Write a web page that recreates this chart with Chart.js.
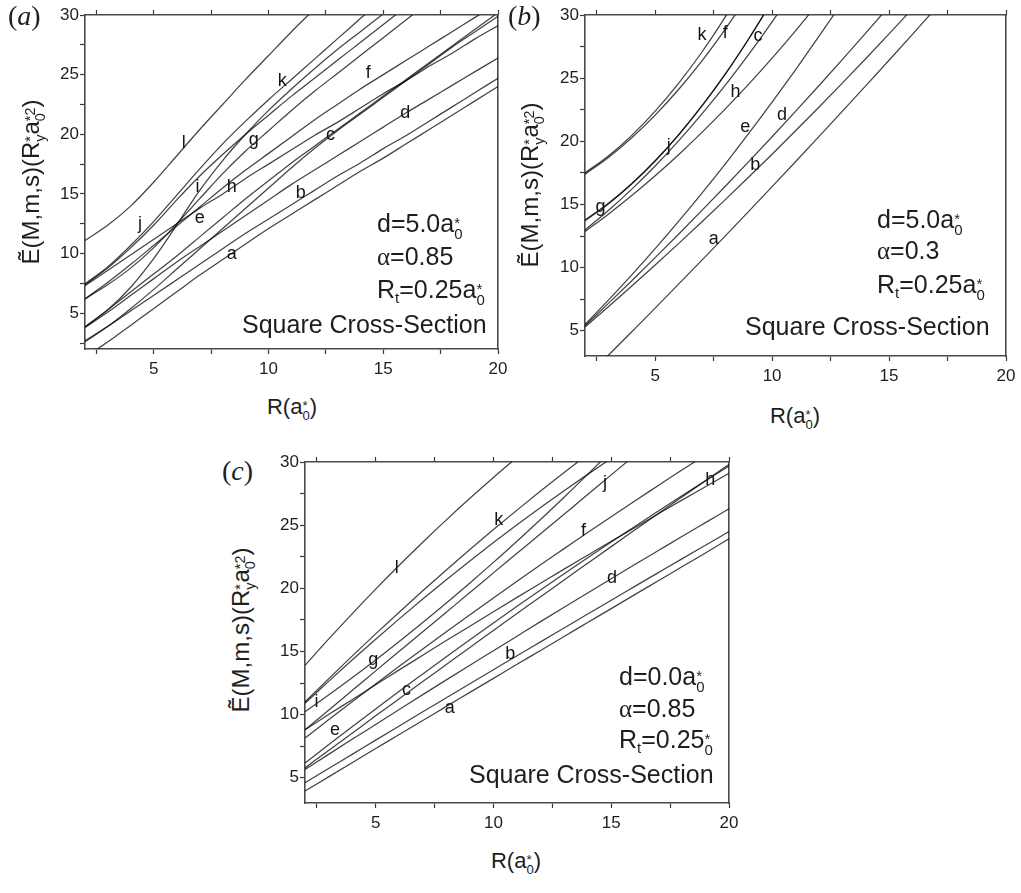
<!DOCTYPE html>
<html>
<head>
<meta charset="utf-8">
<script src="https://cdn.jsdelivr.net/npm/chart.js@4.4.0/dist/chart.umd.min.js"></script>
<style>
  html, body { margin: 0; padding: 0; background: #fff; }
  body { width: 1021px; height: 893px; position: relative; overflow: hidden;
         font-family: "Liberation Sans", Arial, sans-serif; color: #1e1e1e; }
  canvas { position: absolute; }
  .t { position: absolute; white-space: nowrap; line-height: 1; }
  .tag { font-family: "Liberation Serif", "DejaVu Serif", serif; font-size: 28px; }
  .ytitle { font-size: 24px; transform: translate(-50%, -50%) rotate(-90deg); }
  .xtitle { font-size: 22px; transform: translateX(-50%); }
  .note { font-size: 25px; }
  .greek { font-family: "Liberation Serif", "DejaVu Serif", serif; }
  .ss { display: inline-block; font-size: 0.6em; line-height: 0.75; vertical-align: -0.45em; text-align: left; }
  .ss b { display: block; font-weight: normal; }
  sub { font-size: 0.6em; vertical-align: -0.3em; line-height: 0; }
</style>
</head>
<body>
<canvas id="panelA"></canvas>
<canvas id="panelB"></canvas>
<canvas id="panelC"></canvas>

<!-- panel (a) text -->
<div class="t tag" style="left:8px; top:2px">(<i>a</i>)</div>
<div class="t ytitle" style="left:33px; top:182px">Ẽ(M,m,s)(R<span class="ss"><b>*</b><b>y</b></span>a<span class="ss"><b>*2</b><b>0</b></span>)</div>
<div class="t xtitle" style="left:292px; top:396px">R(a<span class="ss"><b>*</b><b>0</b></span>)</div>
<div class="t note" style="left:377px; top:211px">d=5.0a<span class="ss"><b>*</b><b>0</b></span></div>
<div class="t note" style="left:377px; top:244px"><span class="greek">α</span>=0.85</div>
<div class="t note" style="left:377px; top:277px">R<sub>t</sub>=0.25a<span class="ss"><b>*</b><b>0</b></span></div>
<div class="t note" style="left:242px; top:312px">Square Cross-Section</div>

<!-- panel (b) text -->
<div class="t tag" style="left:508px; top:2px">(<i>b</i>)</div>
<div class="t ytitle" style="left:532px; top:185px">Ẽ(M,m,s)(R<span class="ss"><b>*</b><b>y</b></span>a<span class="ss"><b>*2</b><b>0</b></span>)</div>
<div class="t xtitle" style="left:795px; top:405px">R(a<span class="ss"><b>*</b><b>0</b></span>)</div>
<div class="t note" style="left:877px; top:207px">d=5.0a<span class="ss"><b>*</b><b>0</b></span></div>
<div class="t note" style="left:877px; top:238px"><span class="greek">α</span>=0.3</div>
<div class="t note" style="left:877px; top:272px">R<sub>t</sub>=0.25a<span class="ss"><b>*</b><b>0</b></span></div>
<div class="t note" style="left:745px; top:314px">Square Cross-Section</div>

<!-- panel (c) text -->
<div class="t tag" style="left:222px; top:457px">(<i>c</i>)</div>
<div class="t ytitle" style="left:243px; top:630px">Ẽ(M,m,s)(R<span class="ss"><b>*</b><b>y</b></span>a<span class="ss"><b>*2</b><b>0</b></span>)</div>
<div class="t xtitle" style="left:516px; top:850px">R(a<span class="ss"><b>*</b><b>0</b></span>)</div>
<div class="t note" style="left:619px; top:664px">d=0.0a<span class="ss"><b>*</b><b>0</b></span></div>
<div class="t note" style="left:619px; top:696px"><span class="greek">α</span>=0.85</div>
<div class="t note" style="left:619px; top:727px">R<sub>t</sub>=0.25<span class="ss"><b>*</b><b>0</b></span></div>
<div class="t note" style="left:469px; top:762px">Square Cross-Section</div>

<script>
const family = '"Liberation Sans", Arial, sans-serif';

// R values (a0*) where every curve is sampled
const R = [2, 3, 4, 5, 6, 7, 8, 9, 10, 11, 12, 13, 14, 15, 16, 17, 18, 19, 20];
const xTicks = [2.5, 5, 7.5, 10, 12.5, 15, 17.5, 20];
const yTicks = [2.5, 5, 7.5, 10, 12.5, 15, 17.5, 20, 22.5, 25, 27.5, 30];
const names = ['a', 'b', 'c', 'd', 'e', 'f', 'g', 'h', 'i', 'j', 'k', 'l'];

// (a) d=5.0, alpha=0.85
const pa_a = [1.3, 2.6, 4.0, 5.4, 6.8, 8.2, 9.5, 10.8, 12.1, 13.3, 14.5, 15.7, 16.9, 18.0, 19.2, 20.4, 21.6, 22.8, 24.0];
const pa_b = [2.7, 3.9, 5.2, 6.5, 7.8, 9.1, 10.4, 11.7, 12.9, 14.1, 15.3, 16.5, 17.6, 18.8, 19.9, 21.1, 22.3, 23.5, 24.7];
const pa_c = [2.6, 3.9, 5.4, 7.0, 8.7, 10.4, 12.1, 13.8, 15.5, 17.2, 18.8, 20.3, 21.7, 23.1, 24.5, 25.9, 27.3, 28.6, 29.9];
const pa_d = [3.8, 5.1, 6.5, 7.9, 9.3, 10.6, 11.9, 13.2, 14.5, 15.8, 17.0, 18.2, 19.4, 20.6, 21.8, 22.95, 24.1, 25.25, 26.4];
const pa_e = [7.3, 8.6, 9.9, 11.2, 12.5, 13.8, 15.0, 16.3, 17.5, 18.7, 19.9, 21.0, 22.2, 23.4, 24.5, 25.7, 26.8, 28.0, 29.1];
const pa_f = [6.2, 7.6, 9.1, 10.7, 12.3, 13.9, 15.5, 17.0, 18.4, 19.8, 21.2, 22.5, 23.8, 25.0, 26.2, 27.4, 28.6, 29.8, 31.0];
const pa_g = [6.2, 7.4, 8.8, 10.5, 12.5, 14.6, 16.7, 18.6, 20.3, 22.0, 23.6, 25.1, 26.6, 28.1, 29.6, 31.1];
const pa_h = [3.85, 5.3, 6.8, 8.3, 9.8, 11.4, 13.0, 14.6, 16.1, 17.6, 19.0, 20.4, 21.8, 23.2, 24.6, 26.0, 27.4, 28.8, 30.2];
const pa_i = [3.85, 5.3, 7.2, 9.6, 12.4, 15.3, 17.8, 20.0, 22.0, 23.8, 25.5, 27.1, 28.6, 30.1];
const pa_j = [7.4, 8.8, 10.5, 12.4, 14.5, 16.5, 18.3, 20.0, 21.6, 23.2, 24.7, 26.2, 27.7, 29.2, 30.7];
const pa_k = [7.45, 8.9, 10.7, 12.7, 14.9, 17.1, 19.2, 21.1, 22.9, 24.6, 26.3, 28.0, 29.7, 31.4];
const pa_l = [11.1, 12.4, 14.0, 16.0, 18.2, 20.4, 22.5, 24.6, 26.6, 28.6, 30.5];
const pa_labels = [['l', 6.3, 19.3], ['k', 10.6, 24.5], ['g', 9.35, 19.5], ['f', 14.35, 25.1],
  ['c', 12.7, 19.9], ['d', 15.96, 21.8], ['b', 11.4, 15.1], ['a', 8.4, 10.0],
  ['h', 8.4, 15.6], ['e', 7.0, 13.0], ['i', 6.9, 15.6], ['j', 4.4, 12.5]];

// (b) d=5.0, alpha=0.3
const pb_a = [1.22, 3.06, 4.92, 6.79, 8.69, 10.59, 12.51, 14.45, 16.41, 18.38, 20.37, 22.37, 24.39, 26.42, 28.47, 30.54];
const pb_b = [5.3, 6.9, 8.54, 10.2, 11.9, 13.63, 15.38, 17.17, 18.98, 20.83, 22.7, 24.61, 26.54, 28.5, 30.5];
const pb_c = [13.77, 15.09, 16.66, 18.46, 20.51, 22.8, 25.32, 28.1, 31.1];
const pb_d = [5.4, 7.17, 8.96, 10.79, 12.64, 14.53, 16.44, 18.39, 20.36, 22.37, 24.4, 26.47, 28.56, 30.69];
const pb_e = [5.5, 7.42, 9.42, 11.5, 13.66, 15.9, 18.22, 20.62, 23.1, 25.66, 28.3, 31.0];
const pb_f = [17.4, 18.72, 20.28, 22.07, 24.1, 26.37, 28.89, 31.6];
const pb_g = [13.7, 15.04, 16.62, 18.44, 20.5, 22.8, 25.34, 28.12, 31.1];
const pb_h = [12.85, 14.23, 15.7, 17.27, 18.94, 20.71, 22.57, 24.53, 26.59, 28.75, 31.0];
const pb_j = [12.98, 14.52, 16.21, 18.04, 20.03, 22.17, 24.45, 26.88, 29.46, 32.2];
const pb_k = [17.5, 18.84, 20.47, 22.39, 24.59, 27.07, 29.85, 32.9];
const pb_labels = [['k', 7.0, 28.4], ['f', 8.0, 28.55], ['c', 9.4, 28.3], ['h', 8.43, 23.9],
  ['e', 8.85, 21.16], ['d', 10.42, 22.08], ['b', 9.28, 18.1], ['a', 7.5, 12.3],
  ['j', 5.58, 19.6], ['g', 2.66, 14.8]];

// (c) d=0.0, alpha=0.85
const pc_a = [3.95, 5.07, 6.19, 7.31, 8.43, 9.53, 10.65, 11.76, 12.87, 13.98, 15.08, 16.19, 17.29, 18.39, 19.5, 20.6, 21.7, 22.8, 23.92];
const pc_b = [4.6, 5.73, 6.85, 7.98, 9.1, 10.22, 11.33, 12.44, 13.55, 14.66, 15.76, 16.86, 17.96, 19.06, 20.15, 21.24, 22.33, 23.41, 24.49];
const pc_c = [5.78, 7.16, 8.53, 9.9, 11.26, 12.62, 13.97, 15.32, 16.66, 18.0, 19.33, 20.66, 21.98, 23.3, 24.61, 25.92, 27.22, 28.52, 29.81];
const pc_d = [5.65, 6.85, 8.04, 9.22, 10.4, 11.58, 12.75, 13.91, 15.06, 16.21, 17.36, 18.5, 19.63, 20.76, 21.88, 22.99, 24.1, 25.2, 26.3];
const pc_e = [6.17, 7.61, 9.04, 10.45, 11.85, 13.22, 14.58, 15.93, 17.26, 18.57, 19.87, 21.15, 22.42, 23.67, 24.9, 26.12, 27.33, 28.52, 29.68];
const pc_f = [8.14, 9.59, 11.02, 12.43, 13.82, 15.19, 16.56, 17.91, 19.24, 20.56, 21.86, 23.14, 24.42, 25.67, 26.92, 28.14, 29.36, 30.56];
const pc_g = [10.23, 11.55, 12.92, 14.33, 15.79, 17.29, 18.83, 20.42, 22.05, 23.73, 25.45, 27.21, 29.02, 30.87];
const pc_h = [8.8, 10.0, 11.18, 12.36, 13.54, 14.7, 15.86, 17.0, 18.14, 19.28, 20.4, 21.52, 22.62, 23.72, 24.8, 25.9, 26.98, 28.04, 29.1];
const pc_i = [10.9, 12.63, 14.32, 15.97, 17.58, 19.15, 20.68, 22.17, 23.62, 25.03, 26.4, 27.73, 29.02, 30.27];
const pc_j = [8.8, 10.35, 11.9, 13.46, 15.01, 16.56, 18.11, 19.66, 21.22, 22.77, 24.32, 25.87, 27.42, 28.98, 30.53];
const pc_k = [11.0, 12.83, 14.63, 16.39, 18.11, 19.8, 21.45, 23.07, 24.65, 26.19, 27.7, 29.17, 30.6];
const pc_l = [13.9, 15.97, 17.98, 19.93, 21.82, 23.65, 25.42, 27.13, 28.78, 30.37];
const pc_labels = [['l', 5.89, 21.6], ['k', 10.22, 25.42], ['g', 4.9, 14.29], ['i', 2.49, 11.0],
  ['e', 3.27, 8.79], ['c', 6.31, 11.93], ['a', 8.15, 10.5], ['b', 10.71, 14.8],
  ['d', 15.03, 20.84], ['f', 13.82, 24.5], ['j', 14.74, 28.3], ['h', 19.2, 28.6]];

// letters next to the curves, placed in data units
const curveLabels = {
  id: 'curveLabels',
  afterDatasetsDraw(chart, args, opts) {
    const {ctx, scales: {x, y}} = chart;
    ctx.save();
    ctx.font = '18px ' + family;
    ctx.fillStyle = '#151515';
    ctx.textAlign = 'center';
    ctx.textBaseline = 'middle';
    opts.items.forEach(([t, vx, vy]) => ctx.fillText(t, x.getPixelForValue(vx), y.getPixelForValue(vy)));
    ctx.restore();
  }
};

const PAD = {left: 46, top: 12, right: 16, bottom: 32};
const frame = {color: '#4a4a4a', width: 1.6};
const tickGrid = {drawOnChartArea: false, drawTicks: true, tickLength: 5, tickWidth: 1.2, tickColor: '#3a3a3a', color: '#3a3a3a'};

function makePanel(id, area, ymin, series, labels) {
  const cv = document.getElementById(id);
  const w = area.right - area.left + PAD.left + PAD.right;
  const h = area.bottom - area.top + PAD.top + PAD.bottom;
  cv.width = w; cv.height = h;
  cv.style.left = (area.left - PAD.left) + 'px';
  cv.style.top = (area.top - PAD.top) + 'px';
  cv.style.width = w + 'px'; cv.style.height = h + 'px';

  const datasets = series.map((ys, i) => ({
    label: names[i],
    data: ys.map((v, j) => ({x: R[j], y: v})),
    showLine: true,
    borderColor: 'rgba(0,0,0,0.74)',
    borderWidth: 1.25,
    pointRadius: 0,
    cubicInterpolationMode: 'monotone',
    fill: false
  }));

  const tickFont = {family: family, size: 17};
  const onlyFives = v => (v % 5 === 0 ? String(v) : '');

  new Chart(cv, {
    type: 'scatter',
    data: {datasets},
    options: {
      responsive: false,
      animation: false,
      devicePixelRatio: 1,
      layout: {padding: 0},
      plugins: {legend: {display: false}, tooltip: {enabled: false}, curveLabels: {items: labels}},
      scales: {
        x: {
          type: 'linear', position: 'bottom', min: 2, max: 20,
          afterBuildTicks: s => { s.ticks = xTicks.map(v => ({value: v})); },
          afterFit: s => { s.height = PAD.bottom; },
          ticks: {callback: onlyFives, font: tickFont, color: '#1e1e1e', padding: 5, maxRotation: 0, autoSkip: false},
          grid: tickGrid,
          border: frame
        },
        x2: {
          type: 'linear', position: 'top', min: 2, max: 20,
          afterBuildTicks: s => { s.ticks = xTicks.map(v => ({value: v})); },
          afterFit: s => { s.height = PAD.top; },
          ticks: {display: false},
          grid: tickGrid,
          border: frame
        },
        y: {
          type: 'linear', position: 'left', min: ymin, max: 30,
          afterBuildTicks: s => { s.ticks = yTicks.filter(v => v >= ymin).map(v => ({value: v})); },
          afterFit: s => { s.width = PAD.left; },
          ticks: {callback: onlyFives, font: tickFont, color: '#1e1e1e', padding: 1, autoSkip: false},
          grid: tickGrid,
          border: frame
        },
        y2: {
          type: 'linear', position: 'right', min: ymin, max: 30,
          afterFit: s => { s.width = PAD.right; },
          ticks: {display: false},
          grid: {drawOnChartArea: false, drawTicks: false},
          border: frame
        }
      }
    },
    plugins: [curveLabels]
  });
}

makePanel('panelA', {left: 85, top: 15, right: 498, bottom: 349}, 2,
  [pa_a, pa_b, pa_c, pa_d, pa_e, pa_f, pa_g, pa_h, pa_i, pa_j, pa_k, pa_l], pa_labels);

makePanel('panelB', {left: 585, top: 15, right: 1006, bottom: 356}, 3,
  [pb_a, pb_b, pb_c, pb_d, pb_e, pb_f, pb_g, pb_h, [], pb_j, pb_k, []], pb_labels);

makePanel('panelC', {left: 305, top: 462, right: 729, bottom: 803}, 3,
  [pc_a, pc_b, pc_c, pc_d, pc_e, pc_f, pc_g, pc_h, pc_i, pc_j, pc_k, pc_l], pc_labels);
</script>
</body>
</html>
